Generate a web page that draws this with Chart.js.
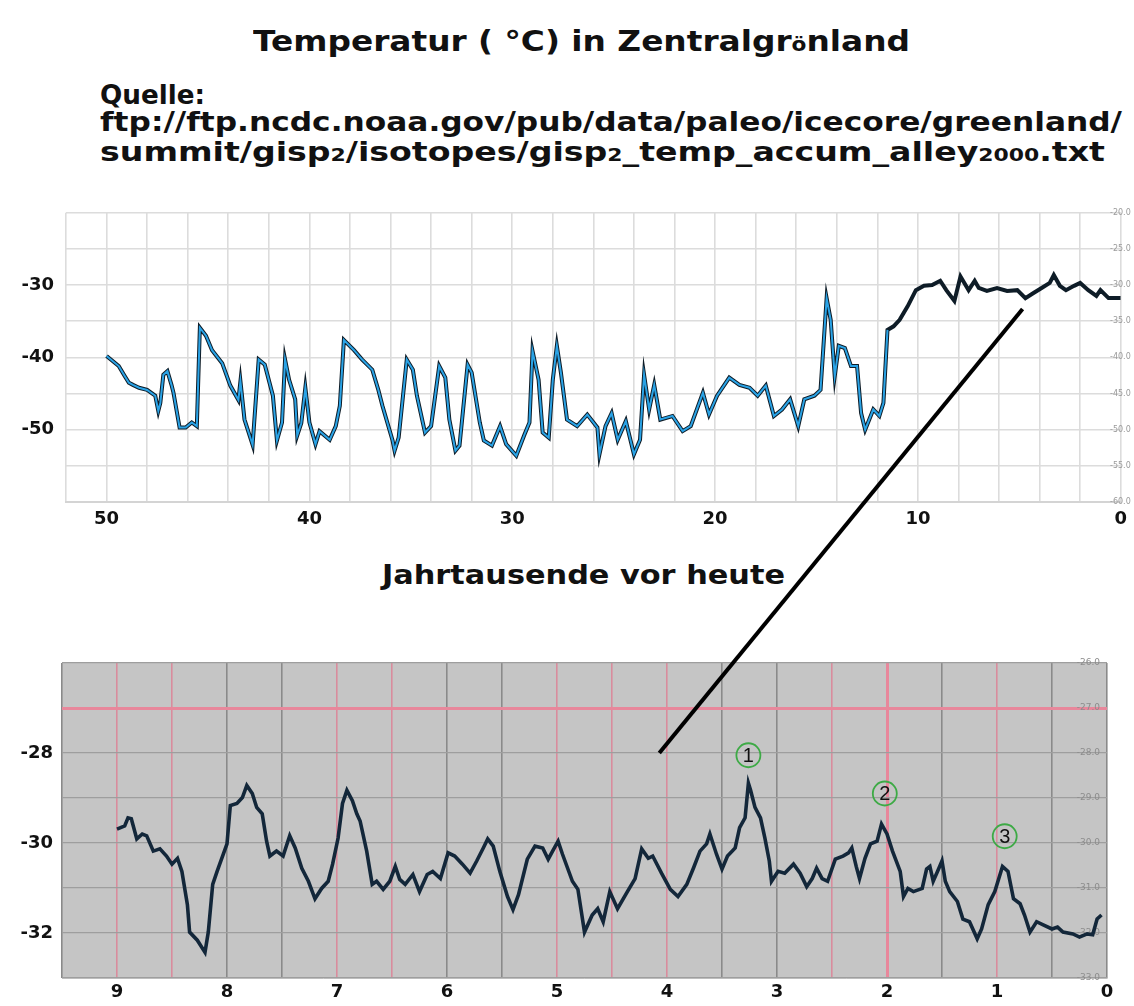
<!DOCTYPE html>
<html>
<head>
<meta charset="utf-8">
<script src="https://cdn.jsdelivr.net/npm/chart.js@4.4.1/dist/chart.umd.min.js"></script>
<style>
  body { margin:0; width:1134px; height:1006px; background:#fff; position:relative; overflow:hidden;
         font-family:'DejaVu Sans', sans-serif; font-weight:bold; color:#111; }
  .t { position:absolute; white-space:nowrap; transform-origin:0 50%; line-height:1; }
  .t small { font-size:0.66em; }
  .box { position:absolute; left:0; }
  #overlay { position:absolute; left:0; top:0; pointer-events:none; }
</style>
</head>
<body>
<div class="t" data-w="657" style="left:253px; top:27px; font-size:29px">Temperatur ( °C) in Zentralgr<small>ö</small>nland</div>
<div class="t" data-w="105" style="left:100px; top:81px; font-size:27px">Quelle:</div>
<div class="t" data-w="1022" style="left:100px; top:108px; font-size:27px">ftp://ftp.ncdc.noaa.gov/pub/data/paleo/icecore/greenland/</div>
<div class="t" data-w="1005" style="left:100px; top:138px; font-size:27px">summit/gisp<small>2</small>/isotopes/gisp<small>2</small>_temp_accum_alley<small>2000</small>.txt</div>
<div class="t" data-w="403" style="left:382px; top:562px; font-size:26px">Jahrtausende vor heute</div>

<div class="box" style="top:190px"><canvas id="topChart" width="1134" height="350"></canvas></div>
<div class="box" style="top:640px"><canvas id="bottomChart" width="1134" height="366"></canvas></div>
<canvas id="overlay" width="1134" height="1006"></canvas>

<script>
// ---- data: top panel (50 ka - today) ----
const kyrTop = [50.0, 49.4, 49.1, 48.9, 48.7, 48.4, 48.0, 47.6, 47.45, 47.35, 47.2, 47.0, 46.8, 46.7, 46.4, 46.1, 45.8, 45.55,
  45.4, 45.1, 44.8, 44.3, 43.9, 43.5, 43.4, 43.2, 42.8, 42.5, 42.2, 41.8, 41.6, 41.35, 41.2, 41.0, 40.7, 40.6, 40.4, 40.2,
  40.0, 39.7, 39.5, 39.0, 38.7, 38.5, 38.3, 37.8, 37.4, 36.9, 36.6, 36.4, 35.9, 35.8, 35.6, 35.2, 34.9, 34.7, 34.3, 34.0,
  33.6, 33.3, 33.1, 32.8, 32.6, 32.2, 32.0, 31.6, 31.4, 31.0, 30.6, 30.3, 29.8, 29.4, 29.15, 29.0, 28.7, 28.5, 28.2, 28.0,
  27.8, 27.6, 27.3, 26.8, 26.3, 25.8, 25.7, 25.4, 25.1, 24.8, 24.4, 24.0, 23.7, 23.5, 23.25, 23.0, 22.7, 22.1, 21.6, 21.2,
  20.6, 20.3, 19.9, 19.3, 18.8, 18.3, 17.9, 17.5, 17.1, 16.7, 16.3, 15.9, 15.6, 15.1, 14.8, 14.5, 14.3, 14.1, 13.9, 13.6,
  13.3, 13.0, 12.8, 12.6, 12.2, 11.9, 11.7, 11.5, 11.2, 10.9, 10.5, 10.1, 9.7, 9.3, 8.9, 8.6, 8.2, 7.9, 7.5, 7.2, 7.0,
  6.6, 6.1, 5.6, 5.1, 4.7, 4.3, 3.9, 3.5, 3.3, 3.0, 2.7, 2.3, 2.0, 1.6, 1.2, 1.0, 0.6, 0.0];
const tempTop = [-39.8, -41.2, -42.6, -43.5, -43.8, -44.2, -44.5, -45.3, -47.4, -46.3, -42.4, -41.9, -43.8, -44.9, -49.7, -49.7, -49.0, -49.5,
  -35.9, -37.0, -39.0, -40.8, -43.9, -45.9, -43.3, -48.6, -52.1, -40.3, -41.0, -45.3, -51.5, -49.0, -40.3, -43.1, -45.8, -50.8, -49.1, -44.2,
  -49.0, -52.0, -50.2, -51.4, -49.5, -46.7, -37.6, -39.0, -40.3, -41.7, -44.5, -46.7, -51.5, -52.9, -51.1, -40.3, -41.7, -45.3, -50.4, -49.5,
  -41.2, -42.8, -48.6, -52.9, -52.2, -41.0, -42.1, -49.0, -51.5, -52.2, -49.5, -52.0, -53.6, -50.7, -49.0, -39.1, -43.1, -50.4, -51.1, -43.1,
  -38.4, -42.1, -48.6, -49.5, -47.9, -49.7, -53.4, -49.5, -47.7, -51.4, -48.8, -53.4, -51.4, -42.4, -47.2, -43.8, -48.6, -48.1, -50.2, -49.5,
  -44.9, -47.9, -45.3, -42.8, -43.8, -44.2, -45.3, -43.9, -48.1, -47.2, -45.8, -49.5, -45.8, -45.3, -44.5, -31.8, -34.8, -42.6, -38.4, -38.7,
  -41.2, -41.2, -47.7, -50.0, -47.2, -48.1, -46.3, -36.2, -35.7, -34.8, -32.9, -30.7, -30.1, -30.0, -29.4, -30.7, -32.2, -28.8, -30.7, -29.4, -30.4,
  -30.8, -30.4, -30.8, -30.7, -31.8, -31.1, -30.4, -29.7, -28.6, -30.1, -30.7, -30.1, -29.7, -30.7, -31.5, -30.7, -31.8, -31.8];

// ---- data: bottom panel (9 ka - today) ----
const kyrBottom = [9.00, 8.93, 8.90, 8.87, 8.82, 8.77, 8.73, 8.67, 8.61, 8.55, 8.50, 8.45, 8.41, 8.36, 8.34, 8.27, 8.20, 8.17,
  8.13, 8.09, 8.05, 8.00, 7.97, 7.91, 7.86, 7.82, 7.77, 7.73, 7.68, 7.64, 7.61, 7.55, 7.49, 7.43, 7.38, 7.32, 7.26, 7.20,
  7.14, 7.08, 7.04, 6.99, 6.95, 6.91, 6.86, 6.82, 6.79, 6.73, 6.68, 6.64, 6.58, 6.52, 6.47, 6.43, 6.38, 6.31, 6.25, 6.18,
  6.13, 6.06, 5.99, 5.93, 5.86, 5.79, 5.73, 5.67, 5.63, 5.58, 5.52, 5.45, 5.40, 5.35, 5.27, 5.20, 5.13, 5.08, 5.04, 4.99,
  4.95, 4.86, 4.81, 4.75, 4.68, 4.63, 4.58, 4.52, 4.45, 4.36, 4.29, 4.23, 4.17, 4.13, 4.05, 3.97, 3.90, 3.82, 3.76, 3.70,
  3.64, 3.61, 3.55, 3.50, 3.45, 3.38, 3.34, 3.29, 3.26, 3.24, 3.20, 3.15, 3.11, 3.07, 3.05, 2.99, 2.93, 2.85, 2.79, 2.73,
  2.68, 2.64, 2.59, 2.54, 2.47, 2.40, 2.35, 2.32, 2.28, 2.25, 2.20, 2.15, 2.09, 2.05, 2.00, 1.95, 1.88, 1.85, 1.81, 1.76,
  1.68, 1.64, 1.61, 1.58, 1.54, 1.50, 1.47, 1.43, 1.36, 1.31, 1.25, 1.18, 1.14, 1.08, 1.02, 0.95, 0.90, 0.85, 0.79, 0.75,
  0.70, 0.64, 0.58, 0.50, 0.45, 0.40, 0.31, 0.25, 0.18, 0.13, 0.09, 0.05];
const tempBottom = [-29.69, -29.62, -29.44, -29.46, -29.91, -29.80, -29.84, -30.18, -30.13, -30.29, -30.47, -30.34, -30.63, -31.37, -31.98, -32.16, -32.43, -31.98,
  -30.92, -30.63, -30.36, -30.02, -29.17, -29.12, -28.99, -28.72, -28.90, -29.21, -29.35, -29.96, -30.29, -30.18, -30.29, -29.84, -30.11, -30.56, -30.85, -31.24,
  -31.01, -30.85, -30.47, -29.89, -29.12, -28.83, -29.06, -29.35, -29.51, -30.18, -30.92, -30.85, -31.03, -30.85, -30.52, -30.81, -30.92, -30.70, -31.08, -30.70,
  -30.63, -30.79, -30.22, -30.29, -30.47, -30.67, -30.40, -30.11, -29.91, -30.07, -30.63, -31.19, -31.48, -31.15, -30.36, -30.07, -30.11, -30.36, -30.18, -29.96,
  -30.25, -30.85, -31.03, -31.98, -31.60, -31.46, -31.75, -31.08, -31.46, -31.08, -30.79, -30.13, -30.34, -30.29, -30.67, -31.03, -31.19, -30.92, -30.56, -30.18,
  -30.02, -29.80, -30.25, -30.58, -30.29, -30.11, -29.66, -29.44, -28.67, -28.83, -29.21, -29.44, -29.89, -30.40, -30.85, -30.63, -30.67, -30.47, -30.67, -30.97,
  -30.79, -30.56, -30.79, -30.85, -30.36, -30.29, -30.22, -30.11, -30.52, -30.79, -30.34, -30.02, -29.96, -29.58, -29.80, -30.18, -30.63, -31.19, -31.01, -31.08,
  -31.01, -30.58, -30.52, -30.85, -30.63, -30.40, -30.85, -31.08, -31.30, -31.69, -31.75, -32.13, -31.91, -31.37, -31.08, -30.52, -30.63, -31.24, -31.35, -31.60,
  -31.98, -31.75, -31.82, -31.91, -31.87, -31.98, -32.02, -32.09, -32.02, -32.04, -31.69, -31.60];

// ---- labels / annotations ----
const topXLabels = [50, 40, 30, 20, 10, 0];
const topYLabels = [-30, -40, -50];
const bottomXLabels = [9, 8, 7, 6, 5, 4, 3, 2, 1, 0];
const bottomYLabels = [-28, -30, -32];
const markerKyr = [3.26, 2.02, 0.93];
const markerTemp = [-28.05, -28.9, -29.85];
const markerText = ['1', '2', '3'];
const linkTop = [4.84, -33.3];     // end of the connector in the upper panel
const linkBottom = [4.07, -28.0];  // end of the connector in the lower panel

// ---- styles ----
const tickFont = { family: 'DejaVu Sans', weight: 'bold', size: 18 };
const smallFont = { family: 'DejaVu Sans', size: 8 };
const pinkGridAt = [9, 8.5, 7, 6.5, 5, 4.5, 4, 2.5, 2, 1];

// fit text lines to their widths in the picture
document.querySelectorAll('.t').forEach(el => {
  const w = el.getBoundingClientRect().width;
  el.style.transform = 'scaleX(' + (parseFloat(el.dataset.w) / w) + ')';
});

const toPoints = (xs, ys) => xs.map((x, i) => ({ x: x, y: ys[i] }));
const topPoints = toPoints(kyrTop, tempTop);
const glacialPoints = topPoints.filter(p => p.x >= 11.5);

const topChart = new Chart(document.getElementById('topChart'), {
  type: 'line',
  data: {
    datasets: [
      { data: glacialPoints, borderColor: '#2aa3e6', borderWidth: 2, pointRadius: 0, tension: 0 },
      { data: topPoints, borderColor: '#0e1c27', borderWidth: 4, pointRadius: 0, tension: 0 }
    ]
  },
  options: {
    responsive: false,
    animation: false,
    events: [],
    layout: { padding: { top: 18, left: 0, right: 0, bottom: 0 } },
    plugins: { legend: { display: false }, tooltip: { enabled: false } },
    scales: {
      x: {
        type: 'linear', reverse: true, min: 0, max: 52,
        afterFit: s => { s.height = 38; },
        grid: { color: '#dcdcdc', lineWidth: 1.6, drawTicks: false },
        border: { color: '#d4d4d4', width: 2 },
        ticks: {
          stepSize: 2, autoSkip: false, maxRotation: 0, padding: 7, color: '#111',
          font: { family: 'DejaVu Sans', weight: 'bold', size: 18 },
          callback: v => topXLabels.includes(v) ? String(v) : ''
        }
      },
      y: {
        position: 'left', min: -60, max: -20,
        afterFit: s => { s.width = 66; },
        grid: { color: '#dcdcdc', lineWidth: 1.6, drawTicks: false },
        border: { display: false },
        ticks: {
          stepSize: 5, padding: 12, color: '#111', font: tickFont,
          callback: v => topYLabels.includes(v) ? String(v) : ''
        }
      },
      y2: {
        position: 'right', min: -60, max: -20,
        afterFit: s => { s.width = 13; },
        grid: { display: false, drawTicks: false },
        border: { display: false },
        ticks: { mirror: true, stepSize: 5, padding: 10, color: '#9a9a9a', font: smallFont, callback: v => v.toFixed(1) }
      }
    }
  }
});

const grayBackground = {
  id: 'grayBackground',
  beforeDraw(chart) {
    const a = chart.chartArea;
    chart.ctx.save();
    chart.ctx.fillStyle = '#c5c5c5';
    chart.ctx.fillRect(a.left, a.top, a.right - a.left, a.bottom - a.top);
    chart.ctx.restore();
  }
};

const circledNumbers = {
  id: 'circledNumbers',
  afterDatasetsDraw(chart) {
    const ctx = chart.ctx;
    ctx.save();
    markerKyr.forEach((k, i) => {
      const px = chart.scales.x.getPixelForValue(k);
      const py = chart.scales.y.getPixelForValue(markerTemp[i]);
      ctx.beginPath();
      ctx.arc(px, py, 12, 0, Math.PI * 2);
      ctx.strokeStyle = '#3daa45';
      ctx.lineWidth = 1.8;
      ctx.stroke();
      ctx.fillStyle = '#111';
      ctx.font = '20px "Liberation Sans"';
      ctx.textAlign = 'center';
      ctx.textBaseline = 'middle';
      ctx.fillText(markerText[i], px, py + 1);
    });
    ctx.restore();
  }
};

const bottomChart = new Chart(document.getElementById('bottomChart'), {
  type: 'line',
  data: {
    datasets: [
      { data: toPoints(kyrBottom, tempBottom), borderColor: '#13273a', borderWidth: 3.6, pointRadius: 0, tension: 0 }
    ]
  },
  options: {
    responsive: false,
    animation: false,
    events: [],
    layout: { padding: { top: 23, left: 0, right: 0, bottom: 0 } },
    plugins: { legend: { display: false }, tooltip: { enabled: false } },
    scales: {
      x: {
        type: 'linear', reverse: true, min: 0, max: 9.5,
        afterFit: s => { s.height = 28; },
        grid: {
          drawTicks: false,
          color: c => c.tick.value === 2 ? '#e8879b' : (pinkGridAt.includes(c.tick.value) ? '#d98c9d' : '#8a8a8a'),
          lineWidth: c => c.tick.value === 2 ? 3 : 1.6
        },
        border: { color: '#bdbdbd', width: 1 },
        ticks: {
          stepSize: 0.5, autoSkip: false, maxRotation: 0, padding: 4, color: '#111', font: tickFont,
          callback: v => bottomXLabels.includes(v) ? String(v) : ''
        }
      },
      y: {
        position: 'left', min: -33, max: -26,
        afterFit: s => { s.width = 62; },
        grid: {
          drawTicks: false,
          color: c => c.tick.value === -27 ? '#e8879b' : '#9e9e9e',
          lineWidth: c => c.tick.value === -27 ? 3 : 1.3
        },
        border: { display: false },
        ticks: {
          stepSize: 1, padding: 9, color: '#111', font: tickFont,
          callback: v => bottomYLabels.includes(v) ? String(v) : ''
        }
      },
      y2: {
        position: 'right', min: -33, max: -26,
        afterFit: s => { s.width = 27; },
        grid: { display: false, drawTicks: false },
        border: { display: false },
        ticks: { mirror: true, stepSize: 1, padding: -7, color: '#8c8c8c', font: { family: 'DejaVu Sans', size: 9 }, callback: v => v.toFixed(1) }
      }
    }
  },
  plugins: [grayBackground, circledNumbers]
});

// connector from the upper panel down to the lower one
const ov = document.getElementById('overlay').getContext('2d');
const x1 = topChart.scales.x.getPixelForValue(linkTop[0]);
const y1 = 190 + topChart.scales.y.getPixelForValue(linkTop[1]);
const x2 = bottomChart.scales.x.getPixelForValue(linkBottom[0]);
const y2 = 640 + bottomChart.scales.y.getPixelForValue(linkBottom[1]);
ov.beginPath();
ov.moveTo(x1, y1);
ov.lineTo(x2, y2);
ov.strokeStyle = '#000';
ov.lineWidth = 4;
ov.stroke();
</script>
</body>
</html>
